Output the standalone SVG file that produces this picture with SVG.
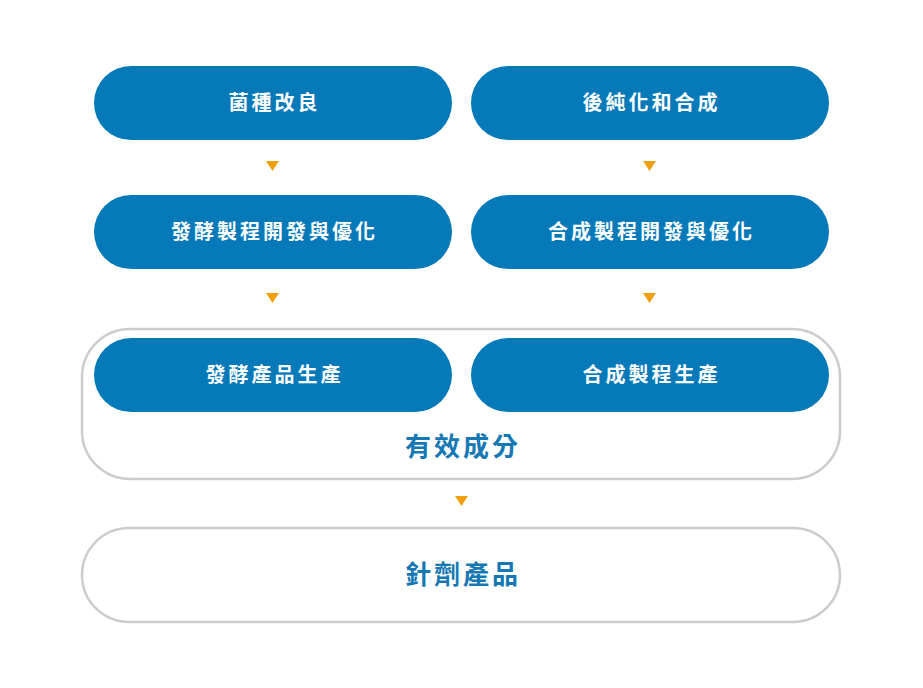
<svg xmlns="http://www.w3.org/2000/svg" width="923" height="688" viewBox="0 0 923 688">
<defs>
<style>
.pill{fill:#0679b9;}
.box{fill:#ffffff;stroke:#cccccc;stroke-width:2.5;}
.wt{fill:#ffffff;font-family:"Noto Sans CJK TC","Noto Sans CJK SC",sans-serif;font-size:20px;font-weight:700;letter-spacing:3px;text-anchor:middle;dominant-baseline:central;}
.bt{fill:#1578b4;font-family:"Noto Sans CJK TC","Noto Sans CJK SC",sans-serif;font-size:26px;font-weight:700;letter-spacing:3px;text-anchor:middle;dominant-baseline:central;}
.arr{fill:#f0a00e;}
</style>
</defs>
<rect width="923" height="688" fill="#ffffff"/>
<g id="container-active">
<rect class="box" x="82" y="329" width="758" height="150" rx="48"/>
<text class="bt" x="463" y="444">有效成分</text>
</g>
<g id="node-injection">
<rect class="box" x="82" y="528" width="758" height="94" rx="47"/>
<text class="bt" x="463" y="572">針劑產品</text>
</g>
<g id="node-strain">
<rect class="pill" x="94" y="66" width="358" height="74" rx="37"/>
<text class="wt" x="274.5" y="101">菌種改良</text>
</g>
<g id="node-purify">
<rect class="pill" x="471" y="66" width="358" height="74" rx="37"/>
<text class="wt" x="651.5" y="101">後純化和合成</text>
</g>
<g id="node-ferm-dev">
<rect class="pill" x="94" y="195" width="358" height="74" rx="37"/>
<text class="wt" x="274.5" y="230">發酵製程開發與優化</text>
</g>
<g id="node-syn-dev">
<rect class="pill" x="471" y="195" width="358" height="74" rx="37"/>
<text class="wt" x="651.5" y="230">合成製程開發與優化</text>
</g>
<g id="node-ferm-prod">
<rect class="pill" x="94" y="338" width="358" height="74" rx="37"/>
<text class="wt" x="274.5" y="373">發酵產品生產</text>
</g>
<g id="node-syn-prod">
<rect class="pill" x="471" y="338" width="358" height="74" rx="37"/>
<text class="wt" x="651.5" y="373">合成製程生產</text>
</g>
<g id="connectors">
<polygon class="arr" points="266,161 279,161 272.5,171"/>
<polygon class="arr" points="643,161 656,161 649.5,171"/>
<polygon class="arr" points="266,293 279,293 272.5,303"/>
<polygon class="arr" points="643,293 656,293 649.5,303"/>
<polygon class="arr" points="455,496 468,496 461.5,506"/>
</g>
</svg>
